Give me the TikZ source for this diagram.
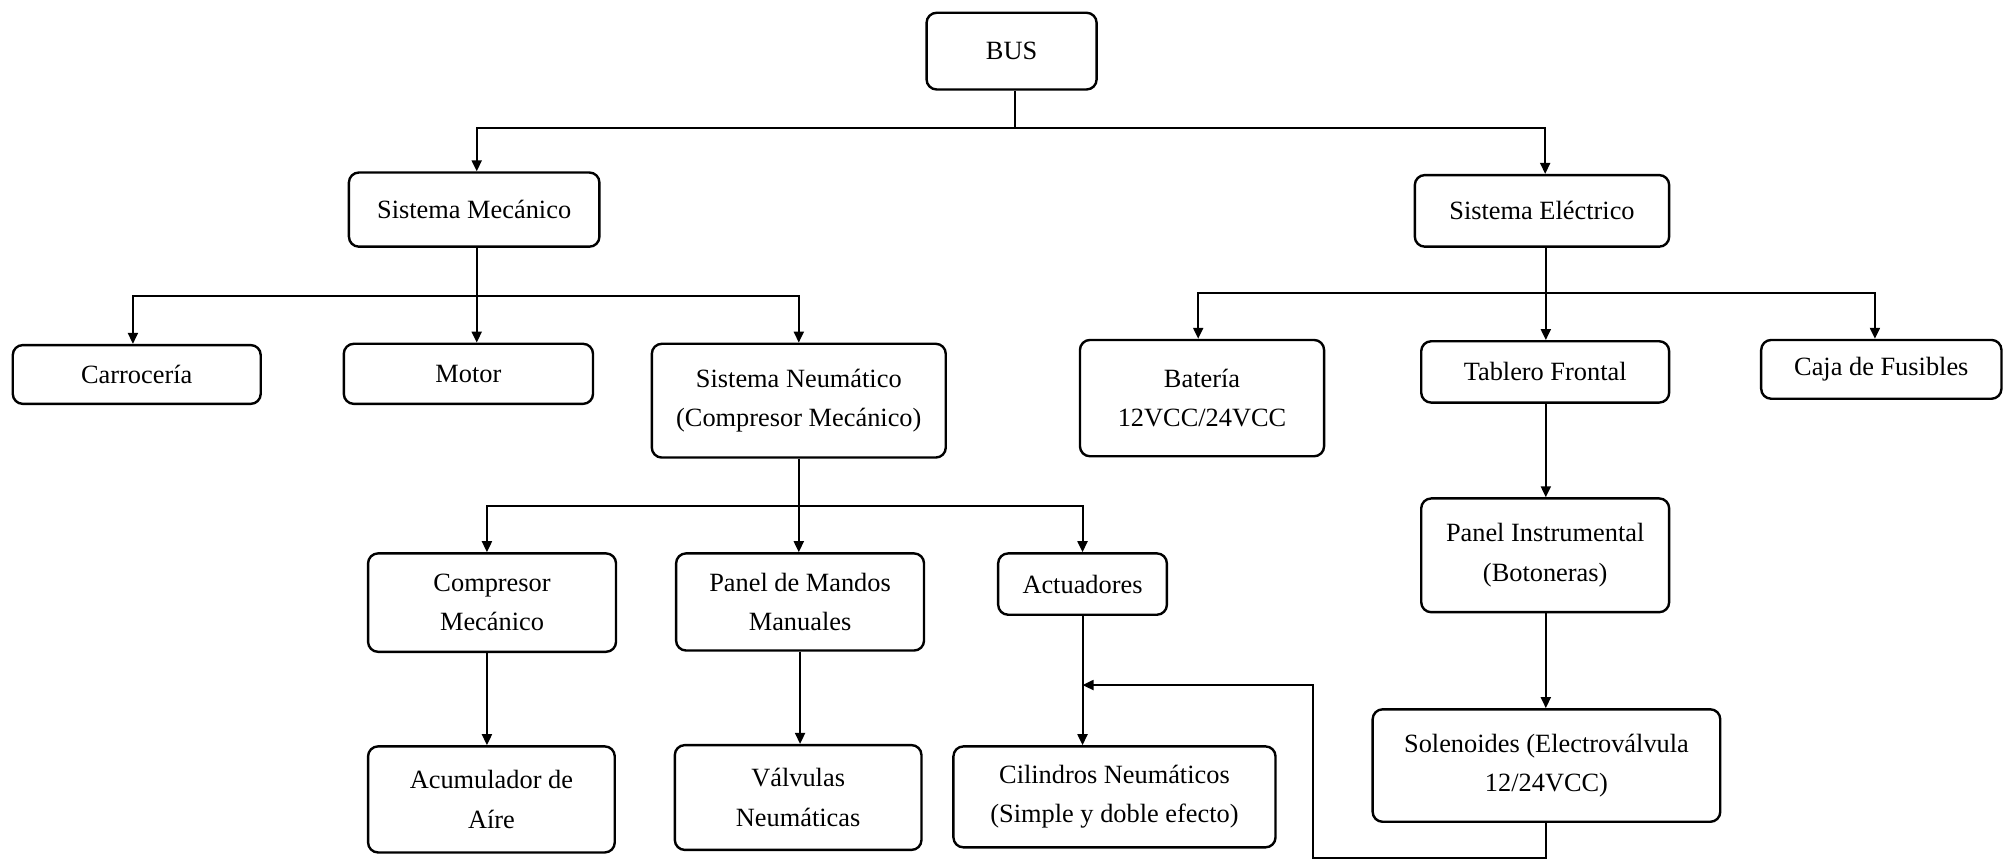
\documentclass[tikz,border=0pt]{standalone}
\usepackage{fontspec}
\setmainfont{Liberation Serif}
\usetikzlibrary{arrows.meta,calc}

% a rounded box given by its corners (x1,y1) and (x2,y2)
\newcommand\boxnode[6]{%
  \node[box, minimum width={(#4-#2)*0.64pt}, minimum height={(#5-#3)*0.64pt}]
    (#1) at ({(#2+#4)/2},{(#3+#5)/2}) {#6};}

\begin{document}
\begin{tikzpicture}[
  x=0.64pt, y=-0.64pt,
  font=\fontsize{13.2}{19.8}\selectfont,
  box/.style={draw, line width=1.2pt, rounded corners=5pt, inner sep=0pt, align=center},
  link/.style={line width=1pt},
  arr/.style={link, -{Triangle[length=5.5pt,width=5pt]}}
]
\useasboundingbox (0,0) rectangle (1568,672);

% top level
\boxnode{bus}{725}{10}{858}{70}{BUS}
\boxnode{mec}{273}{135}{469}{193}{Sistema Mecánico}
\boxnode{ele}{1107}{137}{1306}{193}{Sistema Eléctrico}

% mechanical branch
\boxnode{carr}{10}{270}{204}{316}{Carrocería}
\boxnode{motor}{269}{269}{464}{316}{Motor}
\boxnode{neu}{510}{269}{740}{358}{Sistema Neumático\\(Compresor Mecánico)}

% pneumatic branch
\boxnode{comp}{288}{433}{482}{510}{Compresor\\Mecánico}
\boxnode{mandos}{529}{433}{723}{509}{Panel de Mandos\\Manuales}
\boxnode{act}{781}{433}{913}{481}{Actuadores}
\boxnode{acum}{288}{584}{481}{667}{Acumulador de\\Aíre}
\boxnode{valv}{528}{583}{721}{665}{Válvulas\\Neumáticas}
\boxnode{cil}{746}{584}{998}{663}{Cilindros Neumáticos\\(Simple y doble efecto)}

% electrical branch
\boxnode{bat}{845}{266}{1036}{357}{Batería\\12VCC/24VCC}
\boxnode{tab}{1112}{267}{1306}{315}{Tablero Frontal}
\boxnode{caja}{1378}{266}{1566}{312}{Caja de Fusibles}
\boxnode{pinst}{1112}{390}{1306}{479}{Panel Instrumental\\(Botoneras)}
\boxnode{sol}{1074}{555}{1346}{643}{Solenoides (Electroválvula\\12/24VCC)}

% BUS splits into the two systems
\draw[link] ($(bus.south)+(2.5,0)$) -- ++(0,29) coordinate (jb);
\draw[arr] (jb) -| ($(mec.north)+(2,0)$);
\draw[arr] (jb) -| ($(ele.north)+(2.5,0)$);

% mechanical system
\coordinate (ms) at ($(mec.south)+(2,0)$);
\draw[arr] (ms) -- (ms |- motor.north);
\coordinate (jm) at ($(ms)+(0,38)$);
\draw[arr] (jm) -| ($(carr.north)+(-3,0)$);
\draw[arr] (jm) -| (neu.north);

% pneumatic system
\draw[arr] (neu.south) -- (neu.south |- mandos.north);
\coordinate (jn) at ($(neu.south)+(0,37)$);
\coordinate (cx) at ($(comp.north)+(-4,0)$);
\draw[arr] (jn) -| (cx);
\draw[arr] (jn) -| (act.north);
\draw[arr] (cx |- comp.south) -- (cx |- acum.north);
\draw[arr] (mandos.south) -- (mandos.south |- valv.north);
\draw[arr] (act.south) -- (act.south |- cil.north);

% electrical system
\coordinate (es) at ($(ele.south)+(3,0)$);
\draw[arr] (es) -- (es |- tab.north);
\coordinate (je) at ($(es)+(0,35)$);
\draw[arr] (je) -| ($(bat.north)+(-3,0)$);
\draw[arr] (je) -| ($(caja.north)+(-5,0)$);
\draw[arr] (es |- tab.south) -- (es |- pinst.north);
\draw[arr] (es |- pinst.south) -- (es |- sol.north);

% solenoids feed back to the actuators
\coordinate (fb) at (1027,536);
\draw[arr] (es |- sol.south) -- ++(0,27) -| (fb) -- (act.south |- fb);
\end{tikzpicture}
\end{document}
